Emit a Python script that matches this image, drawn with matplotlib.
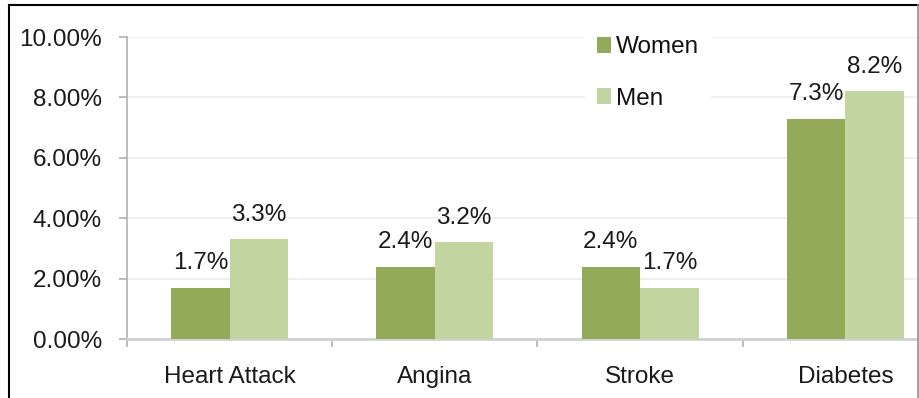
import matplotlib.pyplot as plt
from matplotlib.lines import Line2D
from matplotlib.patches import Rectangle
import numpy as np

# 数据
categories = ['Heart Attack', 'Angina', 'Stroke', 'Diabetes']
women = [1.7, 2.4, 2.4, 7.3]
men = [3.3, 3.2, 1.7, 8.2]
yticks = [0, 2, 4, 6, 8, 10]
ytick_labels = ['0.00%', '2.00%', '4.00%', '6.00%', '8.00%', '10.00%']

c_women = '#93ab58'
c_men = '#c2d4a0'
font = 'Liberation Sans'
fs = 17.5

W, H = 920, 398
fig = plt.figure(figsize=(W / 100, H / 100), dpi=100)
fig.patch.set_facecolor('white')

# 坐标轴区域（右侧超出画布，被边框截断）
ax = fig.add_axes([127 / W, (H - 339) / H, 821 / W, 302 / H])

x = np.arange(len(categories))
bw = 0.285
b1 = ax.bar(x - bw / 2, women, bw, color=c_women, label='Women', zorder=3)
b2 = ax.bar(x + bw / 2, men, bw, color=c_men, label='Men', zorder=3)

# 柱子上的数值
for bars, vals in ((b1, women), (b2, men)):
    for rect, v in zip(bars, vals):
        ax.annotate('%.1f%%' % v, xy=(rect.get_x() + rect.get_width() / 2, v),
                    xytext=(0, 13.5), textcoords='offset points',
                    ha='center', va='baseline', fontsize=fs, family=font,
                    color='#1a1a1a', zorder=4)

ax.set_xlim(-0.5, 3.5)
ax.set_ylim(0, 10)
ax.set_yticks(yticks)
ax.set_yticklabels(ytick_labels, fontsize=fs, family=font, color='#1a1a1a')
ax.set_xticks(x)
ax.set_xticklabels(categories, fontsize=fs, family=font, color='#1a1a1a')
ax.set_xticks([-0.5, 0.5, 1.5, 2.5, 3.5], minor=True)

ax.tick_params(axis='x', which='major', length=0, pad=19.5)
ax.tick_params(axis='x', which='minor', length=6, width=1.2, color='#b0b0b0')
ax.tick_params(axis='y', which='major', length=6, width=1.2, color='#b0b0b0', pad=12)

ax.grid(axis='y', color='#efefef', linewidth=1.3, zorder=0)
ax.set_axisbelow(True)
for s in ['top', 'right']:
    ax.spines[s].set_visible(False)
ax.spines['left'].set_color('#b0b0b0')
ax.spines['bottom'].set_color('#d0d0d0')
ax.spines['left'].set_linewidth(1.2)
ax.spines['bottom'].set_linewidth(2)

# 图例
leg = ax.legend(loc='center', bbox_to_anchor=(648 / W, 1 - 73 / H),
                bbox_transform=fig.transFigure, frameon=True,
                prop={'family': font, 'size': fs},
                handlelength=0.6, handleheight=0.6, handletextpad=0.2,
                labelspacing=1.2, borderpad=0.5)
leg.get_frame().set_facecolor('white')
leg.get_frame().set_edgecolor('none')
leg.get_frame().set_alpha(1)
leg.set_zorder(5)
for t in leg.get_texts():
    t.set_color('#111111')

# 外边框
fig.add_artist(Rectangle((918 / W, 0), 2 / W, 1, transform=fig.transFigure,
                         facecolor='white', edgecolor='none', zorder=10))
fig.add_artist(Line2D([9.5 / W, 9.5 / W], [0, 1 - 4.5 / H], transform=fig.transFigure,
                      color='black', linewidth=1.5, zorder=11))
fig.add_artist(Line2D([9.5 / W, 918.5 / W], [1 - 4.5 / H, 1 - 4.5 / H],
                      transform=fig.transFigure, color='black', linewidth=1.5, zorder=11))
fig.add_artist(Line2D([918.5 / W, 918.5 / W], [0, 1 - 4.5 / H], transform=fig.transFigure,
                      color='#909090', linewidth=1.2, zorder=11))

fig.savefig('out.png', dpi=100)
